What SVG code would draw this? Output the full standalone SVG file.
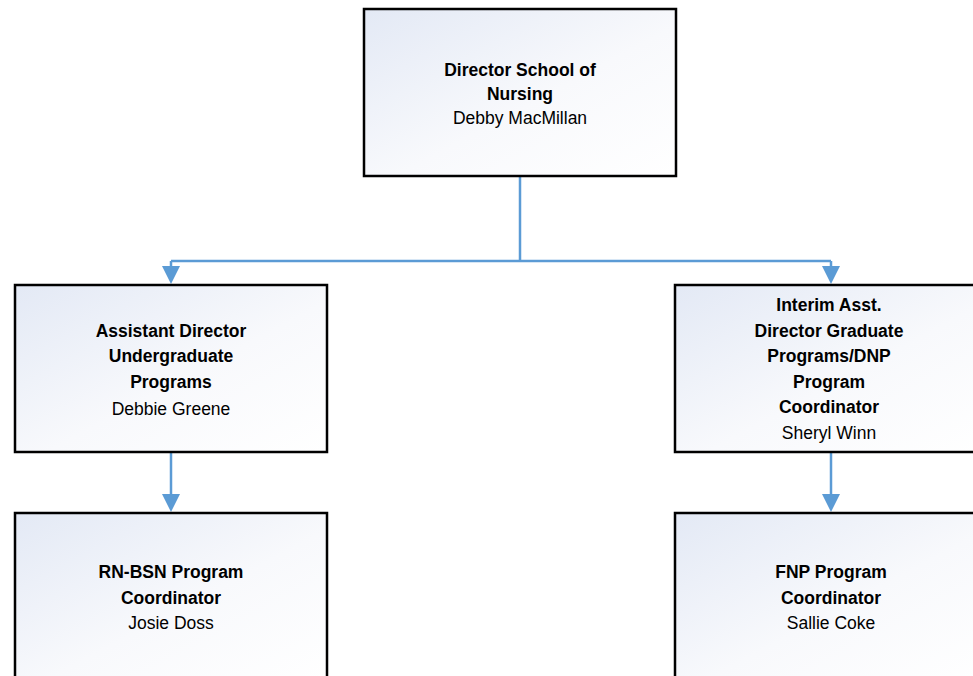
<svg xmlns="http://www.w3.org/2000/svg" width="973" height="676" viewBox="0 0 973 676">
<defs>
<linearGradient id="g" x1="0" y1="0" x2="1" y2="1">
<stop offset="0" stop-color="#e3e9f5"/>
<stop offset="0.55" stop-color="#f8f9fc"/>
<stop offset="1" stop-color="#ffffff"/>
</linearGradient>
<style>
.box{fill:url(#g);stroke:#000;stroke-width:2.5}
.t{font-family:"Liberation Sans",Arial,sans-serif;font-size:17.5px;fill:#000;text-anchor:middle}
.b{font-weight:bold}
.c{fill:none;stroke:#5b9bd5;stroke-width:2.5}
.ah{fill:#5b9bd5}
</style>
</defs>
<rect width="973" height="676" fill="#fff"/>
<g id="connectors">
<path class="c" d="M520,176 V261 M171,261 H831 M171,261 V268 M831,261 V268 M171,452 V496 M831,452 V496"/>
<path class="ah" d="M162,266 L180,266 L171,284 Z"/>
<path class="ah" d="M822,266 L840,266 L831,284 Z"/>
<path class="ah" d="M162,494 L180,494 L171,512 Z"/>
<path class="ah" d="M822,494 L840,494 L831,512 Z"/>
</g>
<g id="director">
<rect class="box" x="364" y="9" width="312" height="167"/>
<text class="t b" x="520" y="76">Director School of</text>
<text class="t b" x="520" y="100">Nursing</text>
<text class="t" x="520" y="124">Debby MacMillan</text>
</g>
<g id="asst-undergrad">
<rect class="box" x="15" y="285" width="312" height="167"/>
<text class="t b" x="171" y="337">Assistant Director</text>
<text class="t b" x="171" y="362">Undergraduate</text>
<text class="t b" x="171" y="388">Programs</text>
<text class="t" x="171" y="415">Debbie Greene</text>
</g>
<g id="asst-grad">
<rect class="box" x="675" y="285" width="312" height="167"/>
<text class="t b" x="829" y="311">Interim Asst.</text>
<text class="t b" x="829" y="337">Director Graduate</text>
<text class="t b" x="829" y="362">Programs/DNP</text>
<text class="t b" x="829" y="388">Program</text>
<text class="t b" x="829" y="413">Coordinator</text>
<text class="t" x="829" y="439">Sheryl Winn</text>
</g>
<g id="rn-bsn">
<rect class="box" x="15" y="513" width="312" height="167"/>
<text class="t b" x="171" y="578">RN-BSN Program</text>
<text class="t b" x="171" y="604">Coordinator</text>
<text class="t" x="171" y="629">Josie Doss</text>
</g>
<g id="fnp">
<rect class="box" x="675" y="513" width="312" height="167"/>
<text class="t b" x="831" y="578">FNP Program</text>
<text class="t b" x="831" y="604">Coordinator</text>
<text class="t" x="831" y="629">Sallie Coke</text>
</g>
</svg>
